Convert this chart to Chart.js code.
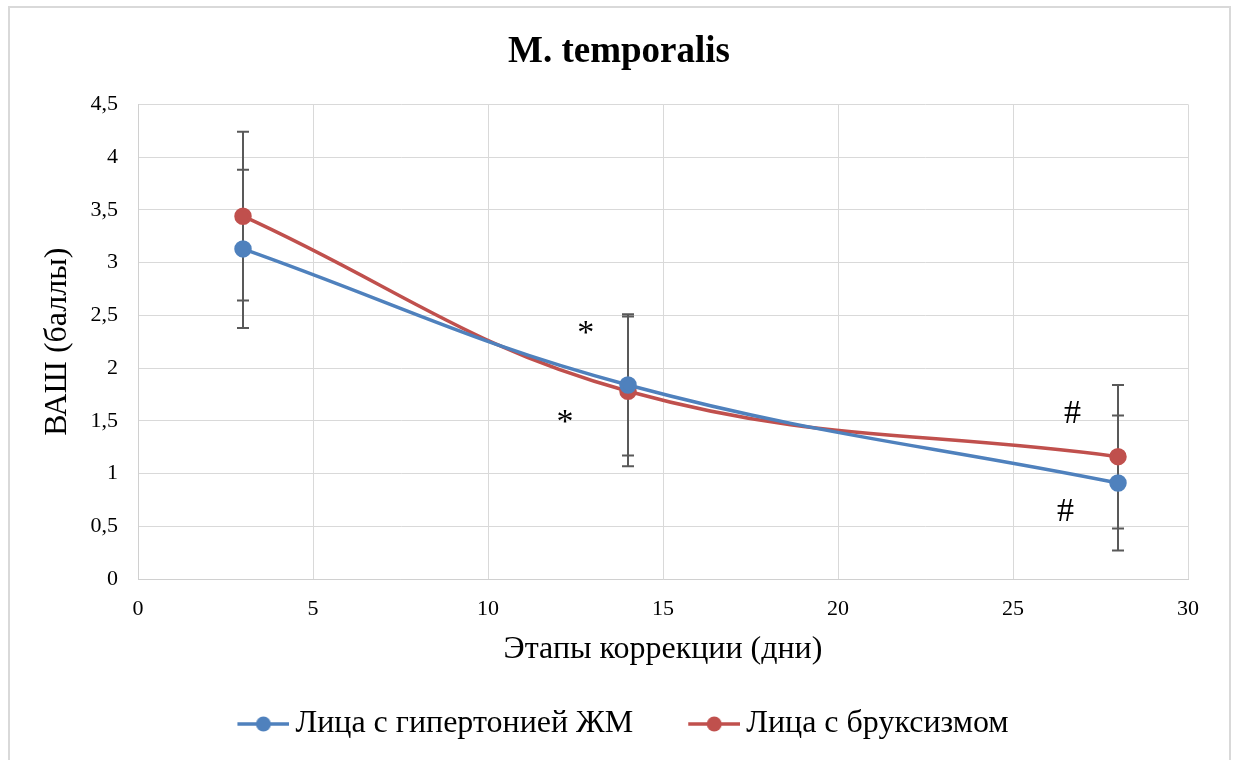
<!DOCTYPE html>
<html>
<head>
<meta charset="utf-8">
<script src="https://cdn.jsdelivr.net/npm/chart.js@4.4.0/dist/chart.umd.min.js"></script>
<style>
  body { margin: 0; background: #fff; }
  #frame { position: absolute; left: 8px; top: 6px; width: 1219px; height: 800px; border: 2px solid #d9d9d9; }
  #wrap { position: absolute; left: 0; top: 0; width: 1233px; height: 760px; }
</style>
</head>
<body>
<div id="frame"></div>
<div id="wrap"><canvas id="chart" width="1233" height="760"></canvas></div>
<script>
// days of correction
const days = [3, 14, 28];
// VAS scores
const hypertension = [3.13, 1.84, 0.91];
const hypertensionErr = [0.75, 0.67, 0.64];
const bruxism = [3.44, 1.78, 1.16];
const bruxismErr = [0.80, 0.71, 0.68];
// significance marks
const marks = ["*", "*", "#", "#"];
const markX = [12.79, 12.2, 26.7, 26.5];
const markY = [2.32, 1.48, 1.56, 0.63];

const blue = "#4f81bd";
const red = "#c0504d";
const serif = "'Liberation Serif', 'Times New Roman', serif";

// legend marker: line with a dot, sitting just left of the label text
function legendIcon(color) {
  const c = document.createElement("canvas");
  c.width = 70; c.height = 16;
  const g = c.getContext("2d");
  g.strokeStyle = color;
  g.lineWidth = 3.5;
  g.beginPath(); g.moveTo(18, 8); g.lineTo(70, 8); g.stroke();
  g.fillStyle = color;
  g.beginPath(); g.arc(44, 8, 7.5, 0, Math.PI * 2); g.fill();
  return c;
}

// error bars under the markers, * and # on top
const extras = {
  id: "extras",
  beforeDatasetsDraw(chart) {
    const ctx = chart.ctx;
    const x = chart.scales.x, y = chart.scales.y;
    const sets = [[hypertension, hypertensionErr], [bruxism, bruxismErr]];
    ctx.save();
    ctx.strokeStyle = "#595959";
    ctx.lineWidth = 2;
    sets.forEach(([vals, errs]) => {
      vals.forEach((v, i) => {
        const px = x.getPixelForValue(days[i]);
        const top = y.getPixelForValue(v + errs[i]);
        const bot = y.getPixelForValue(v - errs[i]);
        ctx.beginPath();
        ctx.moveTo(px, top); ctx.lineTo(px, bot);
        ctx.moveTo(px - 6, top); ctx.lineTo(px + 6, top);
        ctx.moveTo(px - 6, bot); ctx.lineTo(px + 6, bot);
        ctx.stroke();
      });
    });
    ctx.restore();
  },
  afterDatasetsDraw(chart) {
    const ctx = chart.ctx;
    const x = chart.scales.x, y = chart.scales.y;
    ctx.save();
    ctx.fillStyle = "#000";
    ctx.font = "34px " + serif;
    ctx.textAlign = "center";
    ctx.textBaseline = "middle";
    marks.forEach((m, i) => {
      ctx.fillText(m, x.getPixelForValue(markX[i]), y.getPixelForValue(markY[i]));
    });
    ctx.restore();
  }
};

new Chart(document.getElementById("chart"), {
  type: "line",
  data: {
    datasets: [
      {
        label: "Лица с гипертонией ЖМ",
        data: days.map((d, i) => ({ x: d, y: hypertension[i] })),
        borderColor: blue,
        backgroundColor: blue,
        borderWidth: 3.5,
        pointRadius: 7,
        tension: 0.4
      },
      {
        label: "Лица с бруксизмом",
        data: days.map((d, i) => ({ x: d, y: bruxism[i] })),
        borderColor: red,
        backgroundColor: red,
        borderWidth: 3.5,
        pointRadius: 7,
        tension: 0.4
      }
    ]
  },
  options: {
    responsive: false,
    animation: false,
    layout: { padding: { left: 10, right: 5, top: 10, bottom: 10 } },
    plugins: {
      title: {
        display: true,
        text: "M. temporalis",
        color: "#000",
        font: { family: serif, size: 37, weight: "bold" },
        padding: { top: 20, bottom: 30 }
      },
      legend: {
        position: "bottom",
        labels: {
          usePointStyle: true,
          pointStyleWidth: 50,
          color: "#000",
          font: { family: serif, size: 32 },
          padding: 47,
          generateLabels: chart =>
            Chart.defaults.plugins.legend.labels.generateLabels(chart).map((item, i) => {
              item.pointStyle = legendIcon(i === 0 ? blue : red);
              return item;
            })
        }
      },
      tooltip: { enabled: false }
    },
    scales: {
      x: {
        type: "linear",
        min: 0,
        max: 30,
        ticks: { stepSize: 5, color: "#000", font: { family: serif, size: 22 }, padding: 17 },
        grid: { color: "#d9d9d9", drawTicks: false },
        border: { color: "#d0d0d0" },
        title: {
          display: true,
          text: "Этапы коррекции (дни)",
          color: "#000",
          font: { family: serif, size: 32 },
          padding: { top: 0, bottom: -8 }
        },
        afterFit: s => { s.height = 82; }
      },
      y: {
        min: 0,
        max: 4.5,
        ticks: {
          stepSize: 0.5,
          color: "#000",
          font: { family: serif, size: 22 },
          padding: 20,
          callback: v => String(v).replace(".", ",")
        },
        grid: { color: "#d9d9d9", drawTicks: false },
        border: { color: "#d0d0d0" },
        title: {
          display: true,
          text: "ВАШ (баллы)",
          color: "#000",
          font: { family: serif, size: 32 },
          padding: { top: 28, bottom: 0 }
        },
        afterFit: s => { s.width = 128; }
      },
      // empty right-hand margin so the title centres on the whole frame
      yRight: {
        position: "right",
        display: true,
        grid: { display: false, drawTicks: false },
        border: { display: false },
        ticks: { display: false },
        afterFit: s => { s.width = 40; }
      }
    }
  },
  plugins: [extras]
});
</script>
</body>
</html>
